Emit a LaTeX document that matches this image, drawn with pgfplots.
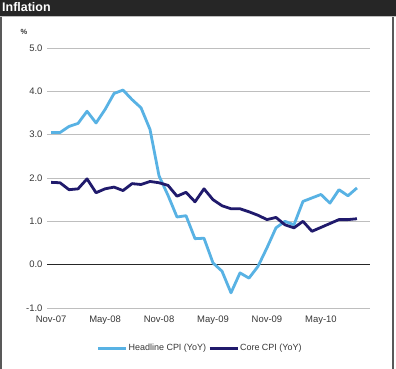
\documentclass[border=0pt]{standalone}
\usepackage{fontspec}
\setmainfont{Liberation Sans}
\usepackage{pgfplots}
\pgfplotsset{compat=1.18}
\definecolor{headline}{RGB}{88,178,228}
\definecolor{core}{RGB}{32,26,108}
\definecolor{gridc}{RGB}{190,190,190}
\definecolor{txt}{RGB}{55,55,55}
\definecolor{bar}{RGB}{38,38,38}
\begin{document}
\begin{tikzpicture}
\path[use as bounding box] (0bp,0bp) rectangle (396bp,369bp);
\fill[white] (0bp,0bp) rectangle (396bp,369bp);
\fill[bar] (0bp,353bp) rectangle (396bp,369bp);
\draw[gridc,line width=1.2bp] (0bp,352.4bp) -- (396bp,352.4bp);
\draw[black!65,line width=1.2bp] (1bp,0bp) -- (1bp,352bp);
\draw[black!65,line width=1.2bp] (393bp,0bp) -- (393bp,352bp);
\node[anchor=base west,text=white,font=\bfseries\fontsize{12.5}{13}\selectfont,inner sep=0] at (2bp,357bp) {Inflation};
\node[anchor=center,text=txt,font=\bfseries\fontsize{7.5}{8}\selectfont,inner sep=0] at (24bp,337bp) {\%};
\begin{axis}[
  at={(47bp,61bp)}, anchor=south west,
  scale only axis, width=323bp, height=260bp,
  xmin=-0.45, xmax=35.45, ymin=-1, ymax=5,
  axis line style={draw=none}, tick style={draw=none},
  ytick={-1,1,2,3,4,5},
  yticklabels={-1.0,1.0,2.0,3.0,4.0,5.0},
  extra y ticks={0}, extra y tick labels={0.0},
  extra y tick style={grid style={black!85,line width=1.6bp}},
  ymajorgrids, grid style={gridc,line width=1bp},
  xtick={0,6,12,18,24,30},
  xticklabels={Nov-07,May-08,Nov-08,May-09,Nov-09,May-10},
  ticklabel style={font=\fontsize{9.5}{10}\selectfont,text=txt},
  yticklabel style={xshift=-1bp},
  xticklabel style={yshift=-4bp},
  legend columns=2,
  legend style={at={(0.474,-0.154)}, anchor=center, draw=none, fill=none,
    font=\fontsize{9}{10}\selectfont, text=txt, inner sep=0pt,
    /tikz/every even column/.append style={column sep=0pt},
    /tikz/every odd column/.append style={column sep=-1bp}},
  legend cell align=left,
  legend image code/.code={\draw[#1,line width=3bp] (0,0) -- (28bp,0);},
]
\addplot[headline, line width=2.8bp, line join=round] table {
x y
0 3.05
1 3.05
2 3.19
3 3.26
4 3.54
5 3.27
6 3.58
7 3.95
8 4.03
9 3.81
10 3.62
11 3.12
12 2.05
13 1.60
14 1.10
15 1.13
16 0.60
17 0.61
18 0.04
19 -0.15
20 -0.65
21 -0.19
22 -0.31
23 -0.04
24 0.39
25 0.85
26 1.00
27 0.92
28 1.46
29 1.54
30 1.62
31 1.42
32 1.73
33 1.59
34 1.77
};
\addlegendentry{Headline CPI (YoY)}
\addplot[core, line width=2.8bp, line join=round] table {
x y
0 1.90
1 1.89
2 1.73
3 1.75
4 1.98
5 1.66
6 1.75
7 1.79
8 1.71
9 1.87
10 1.85
11 1.92
12 1.89
13 1.83
14 1.58
15 1.67
16 1.45
17 1.75
18 1.50
19 1.36
20 1.29
21 1.29
22 1.22
23 1.14
24 1.04
25 1.09
26 0.92
27 0.85
28 1.00
29 0.77
30 0.86
31 0.95
32 1.04
33 1.04
34 1.06
};
\addlegendentry{Core CPI (YoY)}
\end{axis}
\end{tikzpicture}
\end{document}
